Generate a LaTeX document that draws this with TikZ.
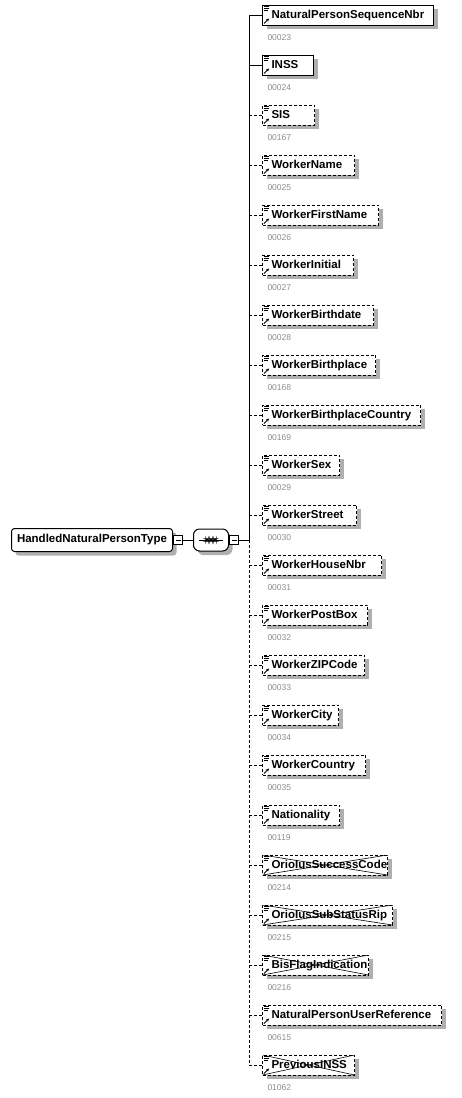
\documentclass[tikz,border=0pt]{standalone}
\usepackage{fontspec}
\setmainfont{Liberation Sans}
\usepackage{xcolor}
\usepackage{tikz}
\usetikzlibrary{positioning,arrows.meta,trees}

\hyphenpenalty=10000

% little marks in the top left and bottom left corner of an element
\newcommand\elemicon{%
  \draw[solid,line width=.8pt]
    ([xshift=1.5pt,yshift=-1.5pt]path picture bounding box.north west) -- ++(5,0)
    ([xshift=1.5pt,yshift=-3.5pt]path picture bounding box.north west) -- ++(5,0)
    ([xshift=1.5pt,yshift=-5.5pt]path picture bounding box.north west) -- ++(4,0);
  \draw[solid,line width=.8pt,-{Stealth[length=3pt,width=3pt]}]
    ([xshift=1.5pt,yshift=1.5pt]path picture bounding box.south west) -- ++(5,-5);}
% deprecated elements are crossed out
\newcommand\elemcross{%
  \draw[solid,line width=.6pt]
    (path picture bounding box.north west) -- (path picture bounding box.south east)
    (path picture bounding box.south west) -- (path picture bounding box.north east);}

\definecolor{shadowgray}{RGB}{175,175,175}

\begin{document}
\begin{tikzpicture}
[x=1pt, y=-1pt, line width=1pt, grow'=right, growth parent anchor=west,
    boxshadow/.style={preaction={draw=none, fill=shadowgray,
        transform canvas={xshift=4pt, yshift=-4pt}}},
    typebox/.style={draw, fill=white, anchor=west, rounded corners=3pt,
        minimum width=161pt, minimum height=23pt, inner sep=0pt,
        font=\fontsize{11.5}{13}\selectfont\bfseries, boxshadow},
    minus/.style={draw, fill=white, anchor=west, minimum size=9pt, inner sep=0pt,
        path picture={\draw ([xshift=2pt]path picture bounding box.west)
            -- ([xshift=-2pt]path picture bounding box.east);}},
    seqbox/.style={draw, fill=white, anchor=west, rounded corners=6pt,
        minimum width=35pt, minimum height=22pt, inner sep=0pt, boxshadow,
        path picture={\draw ([xshift=5pt]path picture bounding box.west)
            -- ([xshift=-6pt]path picture bounding box.east);
          \fill[black] ([xshift=-4pt]path picture bounding box.center) +(-1.6,-1.6) rectangle +(1.6,1.6)
            (path picture bounding box.center) +(-1.6,-1.6) rectangle +(1.6,1.6)
            ([xshift=4pt]path picture bounding box.center) +(-1.6,-1.6) rectangle +(1.6,1.6);}},
    elem/.style={draw, fill=white, anchor=west, text width=#1, align=left,
        inner xsep=0pt, inner ysep=0pt, minimum height=20pt,
        text height=8.5pt, text depth=2.5pt,
        font=\fontsize{11.5}{13}\selectfont\bfseries,
        execute at begin node={\hspace*{9pt}},
        boxshadow, path picture={\elemicon}},
    opt/.style={dash pattern=on 3pt off 2pt},
    gone/.style={path picture={\elemicon\elemcross}},
    num/.style={anchor=north west, xshift=5pt, yshift=-9pt, inner sep=0pt,
        text=black!45, font=\fontsize{8.5}{10}\selectfont},
    level 1/.style={level distance=182pt,
        edge from parent path={(\tikzparentnode-m.east) -- (\tikzchildnode.west)}},
    level 2/.style={level distance=69pt, sibling distance=50pt,
        edge from parent path={(\tikzparentnode-m.east) -- ++(10pt,0pt)
            |- (\tikzchildnode.west)}}
    ]
    \useasboundingbox (0,0) rectangle (461,1098);

    \node[typebox, label={[minus,name=hnpt-m]east:{}}] (hnpt) at (11,540)
        {HandledNaturalPersonType}
    child { node[seqbox, label={[minus,name=seq-m]east:{}}] (seq) {}
        child { node[elem=171pt, label={[num,name=nbr-n]south west:00023}] (nbr) {NaturalPersonSequenceNbr} }
        child { node[elem=51pt, label={[num,name=inss-n]south west:00024}] (inss) {INSS} }
        child[opt] { node[elem=52pt, label={[num,name=sis-n]south west:00167}] (sis) {SIS} }
        child[opt] { node[elem=92pt, label={[num,name=wname-n]south west:00025}] (wname) {WorkerName} }
        child[opt] { node[elem=116pt, label={[num,name=wfirst-n]south west:00026}] (wfirst) {WorkerFirstName} }
        child[opt] { node[elem=91pt, label={[num,name=winit-n]south west:00027}] (winit) {WorkerInitial} }
        child[opt] { node[elem=111pt, label={[num,name=wbdate-n]south west:00028}] (wbdate) {WorkerBirthdate} }
        child[opt] { node[elem=113pt, label={[num,name=wbplace-n]south west:00168}] (wbplace) {WorkerBirthplace} }
        child[opt] { node[elem=158pt, label={[num,name=wbcountry-n]south west:00169}] (wbcountry) {WorkerBirthplaceCountry} }
        child[opt] { node[elem=77pt, label={[num,name=wsex-n]south west:00029}] (wsex) {WorkerSex} }
        child[opt] { node[elem=94pt, label={[num,name=wstreet-n]south west:00030}] (wstreet) {WorkerStreet} }
        child[opt] { node[elem=119pt, label={[num,name=whouse-n]south west:00031}] (whouse) {WorkerHouseNbr} }
        child[opt] { node[elem=105pt, label={[num,name=wpost-n]south west:00032}] (wpost) {WorkerPostBox} }
        child[opt] { node[elem=102pt, label={[num,name=wzip-n]south west:00033}] (wzip) {WorkerZIPCode} }
        child[opt] { node[elem=76pt, label={[num,name=wcity-n]south west:00034}] (wcity) {WorkerCity} }
        child[opt] { node[elem=103pt, label={[num,name=wcountry-n]south west:00035}] (wcountry) {WorkerCountry} }
        child[opt] { node[elem=77pt, label={[num,name=nat-n]south west:00119}] (nat) {Nationality} }
        child[opt] { node[elem=125pt, gone, label={[num,name=osc-n]south west:00214}] (osc) {OrioIusSuccessCode} }
        child[opt] { node[elem=130pt, gone, label={[num,name=osr-n]south west:00215}] (osr) {OrioIusSubStatusRip} }
        child[opt] { node[elem=106pt, gone, label={[num,name=bis-n]south west:00216}] (bis) {BisFlagIndication} }
        child[opt] { node[elem=179pt, label={[num,name=nuref-n]south west:00615}] (nuref) {NaturalPersonUserReference} }
        child[opt] { node[elem=92pt, gone, label={[num,name=prev-n]south west:01062}] (prev) {PreviousINSS} }
    };
\end{tikzpicture}
\end{document}
